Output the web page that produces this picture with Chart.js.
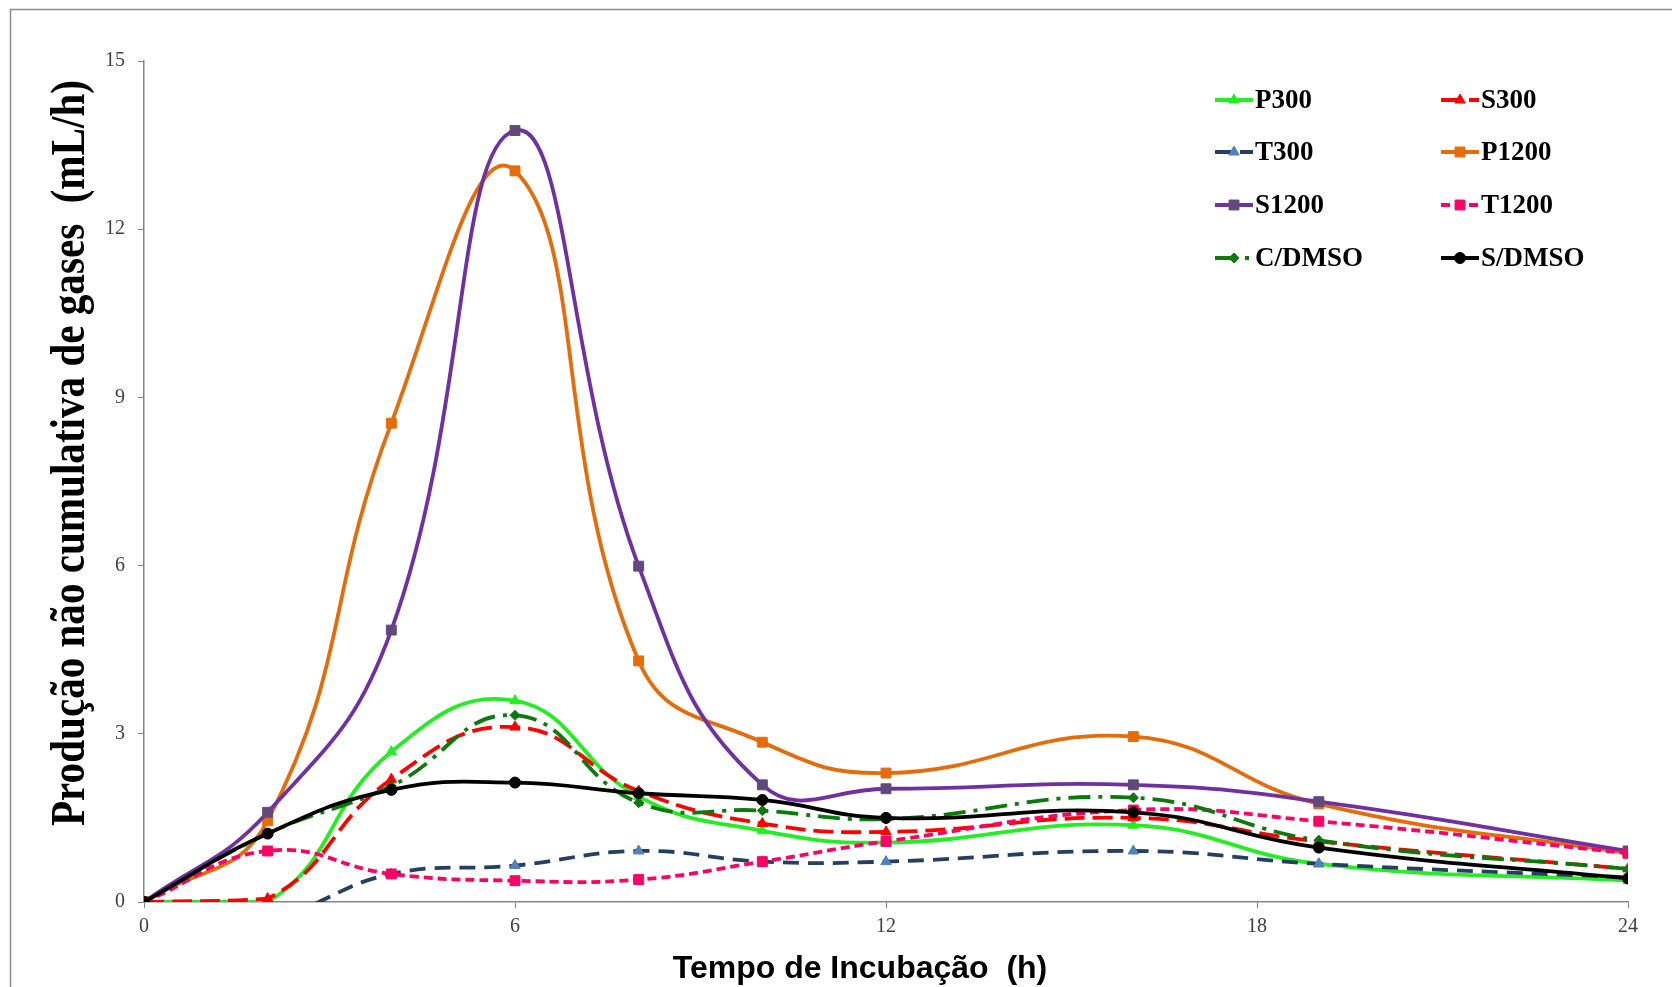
<!DOCTYPE html>
<html>
<head>
<meta charset="utf-8">
<script src="https://cdn.jsdelivr.net/npm/chart.js@4/dist/chart.umd.min.js"></script>
<style>
  html, body { margin: 0; padding: 0; background: #fff; }
  #wrap { width: 1672px; height: 987px; }
</style>
</head>
<body>
<div id="wrap"><canvas id="chart" width="1672" height="987"></canvas></div>
<script>
// Tempo de incubação (h) and gas production (mL/h)
const hours = [0, 2, 4, 6, 8, 10, 12, 16, 19, 24];
const seriesNames = ['P300', 'S300', 'T300', 'P1200', 'S1200', 'T1200', 'C/DMSO', 'S/DMSO'];
const p300  = [0, 0,     2.68, 3.59,  1.88, 1.27, 1.06, 1.37, 0.68, 0.38];
const s300  = [0, 0.06,  2.19, 3.12,  1.98, 1.40, 1.25, 1.50, 1.08, 0.59];
const t300  = [0, -0.25, 0.50, 0.65,  0.91, 0.72, 0.72, 0.91, 0.68, 0.44];
const p1200 = [0, 1.45,  8.54, 13.04, 4.30, 2.85, 2.30, 2.95, 1.75, 0.87];
const s1200 = [0, 1.60,  4.85, 13.76, 5.99, 2.09, 2.02, 2.09, 1.79, 0.91];
const t1200 = [0, 0.91,  0.50, 0.38,  0.40, 0.72, 1.08, 1.64, 1.44, 0.87];
const cDmso = [0, 1.22,  2.07, 3.33,  1.77, 1.63, 1.48, 1.86, 1.10, 0.59];
const sDmso = [0, 1.22,  2.00, 2.13,  1.94, 1.82, 1.50, 1.60, 0.97, 0.42];
const allSeries = [p300, s300, t300, p1200, s1200, t1200, cDmso, sDmso];
const yTicks = [0, 3, 6, 9, 12, 15];
const xTicks = [0, 6, 12, 18, 24];
const xTitle = 'Tempo de Incubação  (h)';
const yTitle = 'Produção não cumulativa de gases  (mL/h)';

// line look of each series, same order as seriesNames
const looks = [
    { color: '#22EE22', marker: '#22EE22', style: 'triangle', r: 6,   dash: [] },
    { color: '#FF0000', marker: '#FF0000', style: 'triangle', r: 6,   dash: [20, 8] },
    { color: '#243F60', marker: '#4F81BD', style: 'triangle', r: 6,   dash: [16, 9] },
    { color: '#E46C0A', marker: '#E46C0A', style: 'rect',     r: 7,   dash: [] },
    { color: '#7030A0', marker: '#604A7B', style: 'rect',     r: 7,   dash: [] },
    { color: '#FF0066', marker: '#FF0066', style: 'rect',     r: 7,   dash: [9, 5] },
    { color: '#0A7A0A', marker: '#0A7A0A', style: 'rectRot',  r: 5,   dash: [22, 8, 4, 8] },
    { color: '#000000', marker: '#000000', style: 'circle',   r: 5.5, dash: [] }
];

const datasets = seriesNames.map((name, i) => ({
    label: name,
    data: hours.map((h, j) => ({ x: h, y: allSeries[i][j] })),
    borderColor: looks[i].color,
    borderWidth: 3.8,
    borderDash: looks[i].dash,
    pointStyle: looks[i].style,
    pointRadius: looks[i].r,
    pointBackgroundColor: looks[i].marker,
    pointBorderColor: looks[i].marker,
    pointBorderWidth: 1,
    tension: 0.45,
    fill: false,
    order: seriesNames.length - i
}));

// two-column legend inside the plot, like the original
const legendCols = [1215, 1441];
const legendRows = [100, 152, 205, 258];
const gridLegend = {
    id: 'gridLegend',
    afterDraw(chart) {
        const ctx = chart.ctx;
        chart.data.datasets.forEach((ds, i) => {
            const x = legendCols[i % 2];
            const y = legendRows[Math.floor(i / 2)];
            ctx.save();
            ctx.strokeStyle = ds.borderColor;
            ctx.lineWidth = 4;
            ctx.setLineDash(ds.borderDash);
            ctx.beginPath();
            ctx.moveTo(x, y);
            ctx.lineTo(x + 38, y);
            ctx.stroke();
            ctx.setLineDash([]);
            ctx.fillStyle = ds.pointBackgroundColor;
            ctx.strokeStyle = ds.pointBorderColor;
            ctx.lineWidth = 1;
            Chart.helpers.drawPoint(ctx, { pointStyle: ds.pointStyle, radius: ds.pointRadius, rotation: 0, borderWidth: 1 }, x + 19, y);
            ctx.fillStyle = '#000';
            ctx.font = 'bold 27px "Liberation Serif"';
            ctx.textBaseline = 'middle';
            ctx.fillText(ds.label, x + 40, y + 1);
            ctx.restore();
        });
    }
};

// outer frame and the two axis titles
const frameAndTitles = {
    id: 'frameAndTitles',
    beforeDraw(chart) {
        const ctx = chart.ctx;
        ctx.save();
        ctx.strokeStyle = '#8c8c8c';
        ctx.lineWidth = 1.5;
        ctx.strokeRect(10.5, 9.5, 1700, 1000);
        ctx.restore();
    },
    afterDraw(chart) {
        const ctx = chart.ctx;
        ctx.save();
        ctx.fillStyle = '#000';
        ctx.textAlign = 'center';
        ctx.textBaseline = 'middle';
        ctx.font = 'bold 32px "Liberation Sans"';
        ctx.fillText(xTitle, 860, 969);

        ctx.font = 'bold 48px "Liberation Serif"';
        const w = ctx.measureText(yTitle).width;
        ctx.translate(72, 453);
        ctx.rotate(-Math.PI / 2);
        ctx.scale(746 / w, 1);
        ctx.fillText(yTitle, 0, 0);
        ctx.restore();
    }
};

const axisGrey = '#868686';

new Chart(document.getElementById('chart'), {
    type: 'line',
    data: { datasets },
    plugins: [frameAndTitles, gridLegend],
    options: {
        responsive: false,
        animation: false,
        layout: { padding: { left: 0, right: 44, top: 61, bottom: 0 } },
        plugins: {
            legend: { display: false },
            tooltip: { enabled: false }
        },
        scales: {
            x: {
                type: 'linear',
                min: 0,
                max: 24,
                afterBuildTicks: s => { s.ticks = xTicks.map(v => ({ value: v })); },
                afterFit: s => { s.height = 85; },
                ticks: {
                    color: '#404040',
                    padding: 7,
                    font: { family: 'Liberation Serif', size: 20 }
                },
                grid: { drawOnChartArea: false, color: axisGrey, tickLength: 6 },
                border: { color: axisGrey, width: 1.5 }
            },
            y: {
                min: 0,
                max: 15,
                afterBuildTicks: s => { s.ticks = yTicks.map(v => ({ value: v })); },
                afterFit: s => { s.width = 144; },
                ticks: {
                    color: '#404040',
                    padding: 13,
                    font: { family: 'Liberation Serif', size: 20 }
                },
                grid: { drawOnChartArea: false, color: axisGrey, tickLength: 6 },
                border: { color: axisGrey, width: 1.5 }
            }
        }
    }
});
</script>
</body>
</html>
